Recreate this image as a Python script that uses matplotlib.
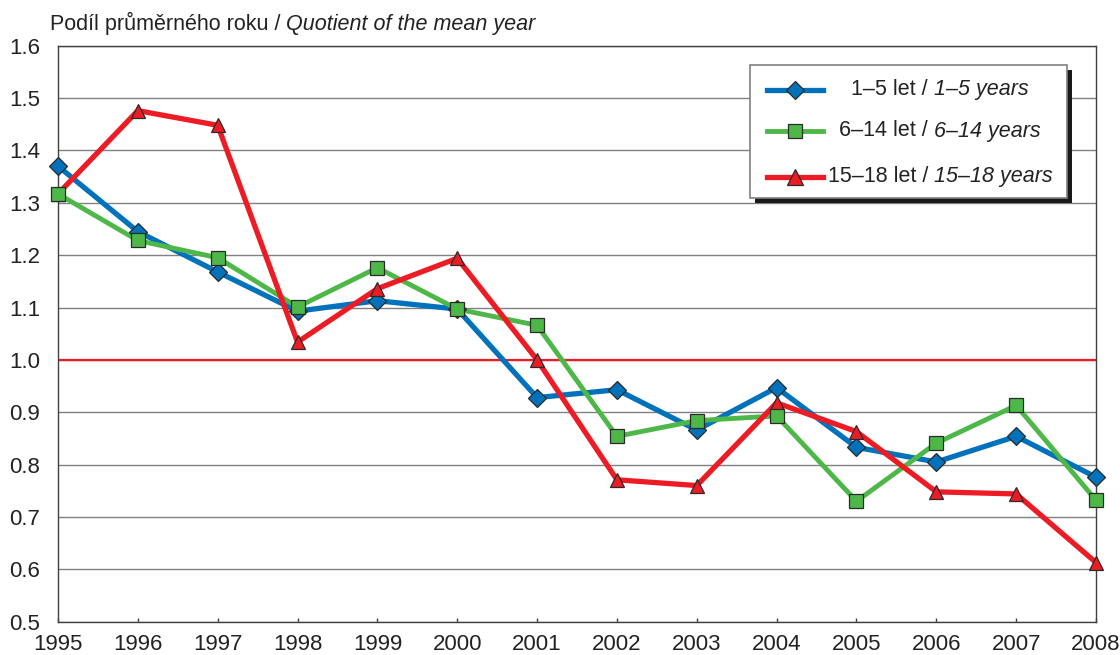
import matplotlib
matplotlib.use("Agg")
import matplotlib.pyplot as plt
from matplotlib.lines import Line2D
from matplotlib.patches import Rectangle
from matplotlib.offsetbox import TextArea, HPacker, AnnotationBbox
import matplotlib.transforms as mtransforms

plt.rcParams['font.family'] = ['Liberation Sans', 'DejaVu Sans']

years = list(range(1995, 2009))
age_1_5 = [1.37, 1.245, 1.168, 1.093, 1.113, 1.097, 0.928, 0.943, 0.866, 0.947,
           0.833, 0.805, 0.854, 0.776]
age_6_14 = [1.317, 1.228, 1.195, 1.101, 1.176, 1.097, 1.066, 0.854, 0.884, 0.893,
            0.730, 0.841, 0.913, 0.732]
age_15_18 = [1.317, 1.476, 1.448, 1.034, 1.136, 1.194, 1.0, 0.771, 0.760, 0.918,
             0.863, 0.748, 0.744, 0.613]

ytick_vals = [0.5, 0.6, 0.7, 0.8, 0.9, 1.0, 1.1, 1.2, 1.3, 1.4, 1.5, 1.6]
ytick_labels = ["0.5", "0.6", "0.7", "0.8", "0.9", "1.0", "1.1", "1.2", "1.3",
                "1.4", "1.5", "1.6"]

legend_regular = ["1–5 let /", "6–14 let /", "15–18 let /"]
legend_italic = ["1–5 years", "6–14 years", "15–18 years"]
title_regular = "Podíl průměrného roku /"
title_italic = "Quotient of the mean year"

BLUE = "#0072BC"
GREEN = "#4DB848"
RED = "#ED1C24"
EDGE = "#2a2a2a"
FS_TICK = 16
FS_LEG = 15.5
FS_TITLE = 15.5

W, H = 1120, 655
fig = plt.figure(figsize=(W / 100, H / 100), dpi=100)
left_px, right_px, top_px, bot_px = 58, 1096, 45.7, 621.7
ax = fig.add_axes([left_px / W, (H - bot_px) / H, (right_px - left_px) / W,
                   (bot_px - top_px) / H])

ax.set_xlim(1995, 2008)
ax.set_ylim(0.5, 1.6)
ax.set_xticks(years)
ax.set_xticklabels([str(y) for y in years], fontsize=FS_TICK, color='#222222')
ax.set_yticks(ytick_vals)
ax.set_yticklabels(ytick_labels, fontsize=FS_TICK, color='#222222')
ax.tick_params(axis='y', length=0, pad=13)
ax.tick_params(axis='x', direction='in', length=3, width=1, color='#404040', pad=8.5)
for s in ax.spines.values():
    s.set_color('#404040')
    s.set_linewidth(1)

ax.yaxis.grid(True, color='#808080', linewidth=1)
ax.set_axisbelow(True)
ax.axhline(1.0, color=RED, linewidth=1.6, zorder=1.5)

series = [
    (age_1_5, BLUE, 'D', 9.0, 3.8, 2.0, 3.0),
    (age_6_14, GREEN, 's', 10.0, 3.5, 2.1, 3.2),
    (age_15_18, RED, '^', 10.5, 3.8, 2.2, 3.1),
]
for vals, col, mk, ms, lw, zl, zm in series:
    ax.plot(years, vals, '-', color=col, linewidth=lw, zorder=zl,
            solid_joinstyle='round', solid_capstyle='round')
    ax.plot(years, vals, linestyle='none', marker=mk, markersize=ms,
            markerfacecolor=col, markeredgecolor=EDGE, markeredgewidth=0.9,
            zorder=zm, clip_on=False)

# Legend (manual, with shadow)
def axx(px):
    return (px - left_px) / (right_px - left_px)

def axy(py):
    return (bot_px - py) / (bot_px - top_px)

lx0, lx1, ly0, ly1 = axx(750), axx(1067), axy(198), axy(65)
shadow_tr = mtransforms.offset_copy(ax.transAxes, fig=fig, x=5, y=-5, units='dots')
ax.add_patch(Rectangle((lx0, ly0), lx1 - lx0, ly1 - ly0, transform=shadow_tr,
                       facecolor='#1a1a1a', edgecolor='none', zorder=5))
ax.add_patch(Rectangle((lx0, ly0), lx1 - lx0, ly1 - ly0, transform=ax.transAxes,
                       facecolor='white', edgecolor='#808080', linewidth=1.2,
                       zorder=6))
row_y = [axy(89.5), axy(131), axy(176.5)]
for (vals, col, mk, ms, lw, zl, zm), ry, treg, tit in zip(
        series, row_y, legend_regular, legend_italic):
    ax.add_line(Line2D([axx(767), axx(823)], [ry, ry], transform=ax.transAxes,
                       color=col, linewidth=lw, zorder=7))
    ax.add_line(Line2D([axx(795)], [ry], transform=ax.transAxes, linestyle='none',
                       marker=mk, markersize=ms * 1.05, markerfacecolor=col,
                       markeredgecolor=EDGE, markeredgewidth=0.9, zorder=8))
    box = HPacker(children=[TextArea(treg, textprops=dict(fontsize=FS_LEG, color='#222222')),
                            TextArea(tit, textprops=dict(fontsize=FS_LEG, style='italic',
                                                         color='#222222'))],
                  align='baseline', pad=0, sep=4.3)
    ab = AnnotationBbox(box, (axx(940), ry), xycoords='axes fraction',
                        box_alignment=(0.5, 0.5), frameon=False, pad=0, zorder=9)
    ax.add_artist(ab)

# Title
tbox = HPacker(children=[TextArea(title_regular, textprops=dict(fontsize=FS_TITLE, color='#222222')),
                         TextArea(title_italic, textprops=dict(fontsize=FS_TITLE, style='italic',
                                                               color='#222222'))],
               align='baseline', pad=0, sep=4.3)
tab = AnnotationBbox(tbox, (50 / W, 1 - 23 / H), xycoords='figure fraction',
                     box_alignment=(0, 0.5), frameon=False, pad=0)
fig.add_artist(tab)

fig.savefig("out.png", dpi=100)
